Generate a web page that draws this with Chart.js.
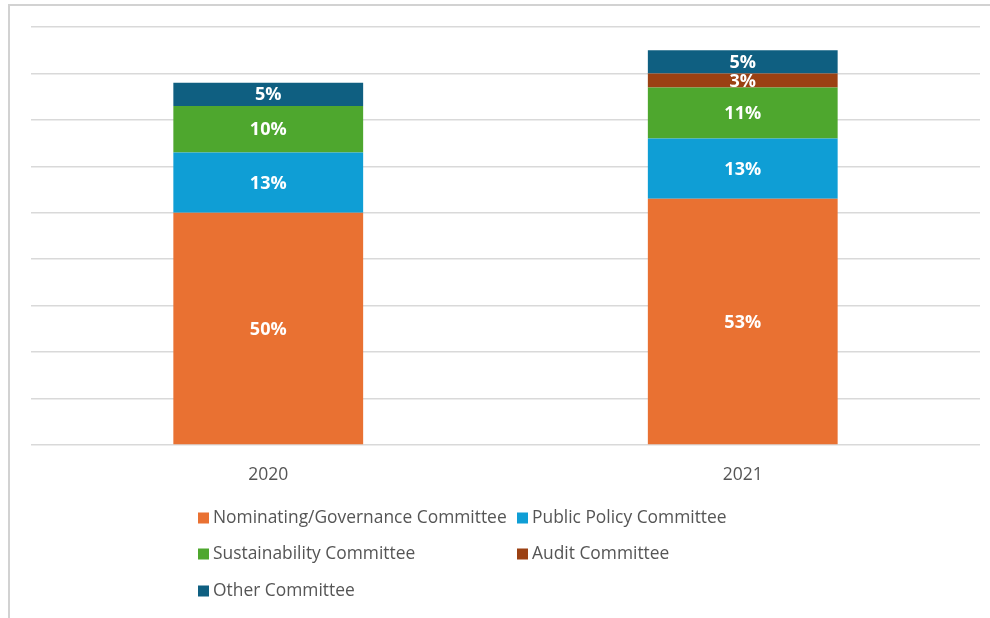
<!DOCTYPE html>
<html>
<head>
    <meta charset="UTF-8">
    <title>Committee Oversight</title>
    <style>
        html, body {
            margin: 0;
            padding: 0;
            background: #ffffff;
            overflow: hidden;
        }

        #frame {
            position: absolute;
            left: 8px;
            top: 4px;
            width: 1000px;
            height: 700px;
            border: 2px solid #d2d2d2;
        }

        #wrap {
            position: absolute;
            left: 0;
            top: 0;
            width: 990px;
            height: 618px;
        }
    </style>
    <script src="https://cdn.jsdelivr.net/npm/chart.js@4.4.0/dist/chart.umd.min.js"></script>
    <script>
        // 연도별 위원회 비율 (%)
        var years = ['2020', '2021'];
        var committees = [
            'Nominating/Governance Committee',
            'Public Policy Committee',
            'Sustainability Committee',
            'Audit Committee',
            'Other Committee'
        ];
        var nominating = [50, 53];
        var publicPolicy = [13, 13];
        var sustainability = [10, 11];
        var audit = [0, 3];
        var other = [5, 5];
        var colors = ['#E97132', '#0F9ED5', '#4EA72E', '#9B4113', '#0F5F81'];

        var FONT = '"Open Sans", "Noto Sans", sans-serif';

        // 막대 안에 퍼센트 표시
        var valueLabels = {
            id: 'valueLabels',
            afterDatasetsDraw: function(chart) {
                var ctx = chart.ctx;
                ctx.save();
                ctx.fillStyle = '#ffffff';
                ctx.font = 'bold 18px ' + FONT;
                ctx.textAlign = 'center';
                ctx.textBaseline = 'middle';
                chart.data.datasets.forEach(function(ds, i) {
                    var meta = chart.getDatasetMeta(i);
                    meta.data.forEach(function(bar, j) {
                        var v = ds.data[j];
                        if (!v) return;
                        var mid = (bar.y + bar.base) / 2;
                        ctx.fillText(v + '%', bar.x, mid + 1);
                    });
                });
                ctx.restore();
            }
        };

        // 두 칸으로 정렬된 범례
        var gridLegend = {
            id: 'gridLegend',
            afterDraw: function(chart) {
                var ctx = chart.ctx;
                var colX = [198, 517];
                var rowY = [518, 554, 591];
                ctx.save();
                ctx.font = '17.4px ' + FONT;
                ctx.textBaseline = 'middle';
                ctx.textAlign = 'left';
                chart.data.datasets.forEach(function(ds, i) {
                    var x = colX[i % 2];
                    var y = rowY[Math.floor(i / 2)];
                    ctx.fillStyle = ds.backgroundColor;
                    ctx.fillRect(x, y - 5.5, 11, 11);
                    ctx.fillStyle = '#555555';
                    ctx.fillText(ds.label, x + 15, y);
                });
                ctx.restore();
            }
        };

        $ready = function() {
            var series = [nominating, publicPolicy, sustainability, audit, other];
            var datasets = [];
            for (var i = 0; i < committees.length; i++) {
                datasets.push({
                    label: committees[i],
                    data: series[i],
                    backgroundColor: colors[i],
                    borderWidth: 0,
                    barPercentage: 0.4,
                    categoryPercentage: 1.0
                });
            }

            var ctx = document.getElementById('bar-chart').getContext('2d');
            new Chart(ctx, {
                type: 'bar',
                data: {
                    labels: years,
                    datasets: datasets
                },
                options: {
                    responsive: false,
                    animation: false,
                    layout: {
                        padding: { left: 31, right: 10, top: 27, bottom: 0 }
                    },
                    plugins: {
                        legend: { display: false },
                        tooltip: { enabled: false }
                    },
                    scales: {
                        x: {
                            stacked: true,
                            grid: { display: false },
                            border: { display: false },
                            ticks: {
                                color: '#555555',
                                padding: 12,
                                font: { family: FONT, size: 17.5 }
                            },
                            afterFit: function(scale) {
                                scale.height = 173;
                            }
                        },
                        y: {
                            stacked: true,
                            min: 0,
                            max: 90,
                            grid: {
                                color: '#d9d9d9',
                                lineWidth: 1.5,
                                drawTicks: false
                            },
                            border: { display: false },
                            ticks: { display: false, stepSize: 10 },
                            afterFit: function(scale) {
                                scale.width = 0;
                            }
                        }
                    }
                },
                plugins: [valueLabels, gridLegend]
            });
        };

        document.addEventListener('DOMContentLoaded', $ready);
    </script>
</head>
<body>
<div id="frame"></div>
<div id="wrap">
    <canvas id="bar-chart" width="990" height="618"></canvas>
</div>
</body>
</html>
